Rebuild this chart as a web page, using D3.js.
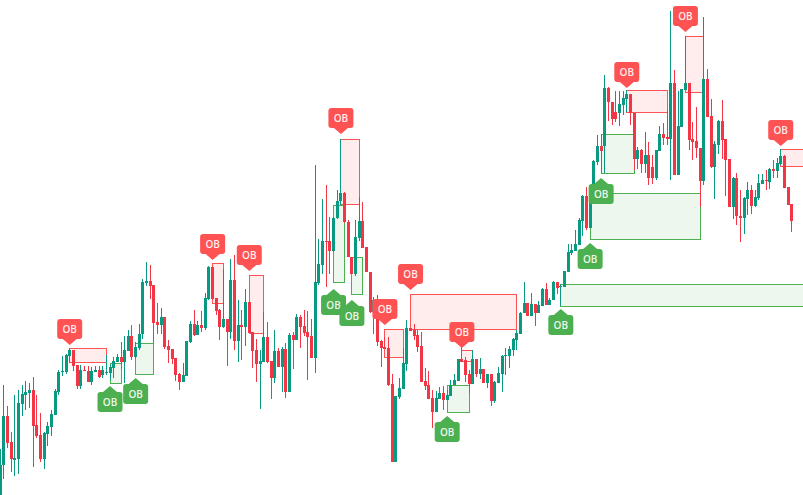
<!DOCTYPE html>
<html><head><meta charset="utf-8">
<script src="https://cdn.jsdelivr.net/npm/d3@7"></script>
<style>html,body{margin:0;padding:0;background:#fff;overflow:hidden}svg{display:block}</style>
</head><body><svg id="c"></svg>
<script>
const firstBar = -1;
const highs = [551,615,594,568,605,610,615,619,617,623,605,587,568,578,590,611,630,644,646,652,650,635,635,634,634,633,634,634,634,645,635,643,646,658,664,670,675,658,676,721,738,735,715,697,692,683,660,651,642,627,637,659,679,690,679,689,707,734,733,702,691,731,681,741,745,700,690,711,698,668,661,650,688,678,639,670,652,653,657,667,668,686,685,690,689,681,835,761,801,815,783,783,810,861,808,780,743,780,803,798,753,728,703,705,660,663,663,626,604,622,652,680,672,676,670,668,632,629,610,609,613,614,610,620,626,641,653,643,630,650,641,642,631,626,626,619,633,645,652,654,662,670,688,718,697,707,696,699,712,717,702,719,718,716,729,756,756,770,782,805,813,808,840,865,866,925,913,898,909,909,909,910,906,887,853,851,868,858,845,850,874,877,890,989,930,909,911,964,917,878,893,852,983,931,901,859,880,900,861,841,823,827,810,803,818,815,810,826,826,830,832,840,842,851,845,813,796];
const opens = [505,535,584,558,540,541,596,605,607,610,575,565,541,566,573,585,608,628,628,644,650,635,614,630,629,618,628,630,625,627,627,632,638,643,638,649,664,643,652,666,717,719,715,678,675,683,654,651,642,626,618,624,658,676,665,675,672,701,733,702,690,673,681,668,720,659,675,673,698,668,650,636,638,663,639,622,649,633,651,608,665,660,683,674,668,664,642,717,735,759,759,749,782,799,807,778,743,726,762,779,753,728,688,700,659,653,652,616,538,603,611,636,672,670,665,654,619,615,602,588,601,607,600,604,615,619,641,640,626,616,641,626,631,617,626,599,617,626,644,644,650,660,666,687,697,684,696,687,694,711,695,700,718,713,713,728,747,749,755,779,804,772,803,838,854,854,912,898,888,887,895,901,906,887,841,850,836,845,833,822,849,866,863,861,917,825,873,910,917,861,859,852,819,921,884,833,855,879,861,841,793,822,784,782,801,810,794,802,816,820,818,831,829,836,844,813,796];
const closes = [535,584,557,541,542,597,606,608,610,574,564,541,567,574,586,609,628,629,645,650,634,614,630,629,618,629,630,623,630,628,633,639,643,638,650,664,643,653,666,718,719,714,677,675,683,653,650,641,625,618,625,659,676,665,675,672,702,733,701,689,673,681,668,720,659,675,673,698,667,649,636,639,663,638,622,649,633,651,608,665,660,683,673,667,663,642,718,736,759,758,749,782,799,807,778,743,726,763,779,752,728,688,700,658,652,651,615,538,604,612,637,672,669,664,653,618,614,601,588,602,607,600,605,615,620,641,638,625,616,641,626,631,617,626,599,618,627,644,645,651,661,667,687,697,684,696,687,695,711,695,700,718,712,714,729,748,750,756,780,804,772,807,839,854,849,912,898,881,881,896,902,906,887,841,850,836,845,822,822,850,866,862,861,917,825,874,911,917,860,858,852,819,921,883,833,856,879,860,840,793,822,784,782,802,810,794,803,817,820,819,831,829,837,844,812,795,779];
const lows = [505,521,552,528,524,526,584,590,592,533,562,538,531,554,564,585,605,624,626,637,629,611,611,629,618,615,628,622,622,625,620,622,638,631,617,649,640,641,650,661,714,701,657,666,666,651,637,636,619,610,618,624,657,664,665,668,670,700,701,685,660,672,634,661,650,638,640,654,667,632,618,591,638,637,601,617,633,608,602,608,631,660,652,664,620,642,627,715,726,713,726,748,781,795,777,743,726,724,759,752,728,687,666,654,633,651,614,538,538,601,611,629,669,660,648,618,610,601,572,588,601,590,600,604,615,619,638,618,607,616,623,621,617,612,594,597,617,608,625,632,644,650,666,687,684,684,674,687,694,695,695,700,706,694,713,728,745,749,755,764,770,772,800,835,827,827,879,875,878,874,885,888,875,830,831,827,827,815,816,820,849,855,855,820,825,825,873,910,850,840,842,793,815,883,832,801,846,841,804,793,781,775,758,766,785,786,793,800,816,810,811,822,822,835,812,795,768];

const bearZoneStart = [18,57,67,92,104,111,125,170,186,212];
const bearZoneEnd   = [28,60,71,97,109,140,128,181,191,225];
const bearZoneTop   = [652,737,725,861,671,706,650,910,964,851];
const bearZoneBot   = [638,697,667,796,643,671,639,888,908,834];
const bullZoneStart = [29,36,90,95,121,152,160,163];
const bullZoneEnd   = [32,41,93,98,127,225,190,172];
const bullZoneTop   = [637,657,795,743,615,716,807,866];
const bullZoneBot   = [617,626,718,706,588,694,761,827];

const bearLabelBar = [18,57,67,92,104,111,125,170,186,212];
const bearLabelPrice = [655,740,729,866,675,710,652,912,968,854];
const bullLabelBar = [29,36,90,95,121,152,160,163];
const bullLabelPrice = [614,622,711,700,584,691,757,822];
const labelText = "OB";

const W = 803, H = 495;
const upColor = "#089981", downColor = "#F23645";
const bearLine = "#FF5252", bullLine = "#4CAF50";

const svg = d3.select("#c").attr("width", W).attr("height", H).attr("viewBox", `0 0 ${W} ${H}`);
const x = d3.scaleLinear().domain([0, 215]).range([3.72, 791.72]);
const y = d3.scaleLinear().domain([505, 1000]).range([H, 0]);
const px = i => Math.floor(x(i));

const candles = highs.map((h, i) => ({bar: i + firstBar, o: opens[i], h, l: lows[i], c: closes[i]}));
const bearZones = bearZoneStart.map((s, i) => ({s, e: bearZoneEnd[i], t: bearZoneTop[i], b: bearZoneBot[i]}));
const bullZones = bullZoneStart.map((s, i) => ({s, e: bullZoneEnd[i], t: bullZoneTop[i], b: bullZoneBot[i]}));

function zones(data, stroke) {
  svg.append("g").attr("shape-rendering", "crispEdges").selectAll("rect").data(data).join("rect")
    .attr("x", d => px(d.s) + .5).attr("y", d => Math.round(y(d.t)) + .5)
    .attr("width", d => px(d.e) - px(d.s)).attr("height", d => Math.round(y(d.b)) - Math.round(y(d.t)))
    .attr("fill", stroke).attr("fill-opacity", .1).attr("stroke", stroke).attr("stroke-width", 1);
}
zones(bullZones, bullLine);
zones(bearZones, bearLine);

const cg = svg.append("g").attr("shape-rendering", "crispEdges");
const col = d => d.c >= d.o ? upColor : downColor;
cg.selectAll(".w").data(candles).join("rect").attr("class", "w")
  .attr("x", d => px(d.bar)).attr("width", 1)
  .attr("y", d => y(d.h)).attr("height", d => y(d.l) - y(d.h)).attr("fill", col);
cg.selectAll(".b").data(candles).join("rect").attr("class", "b")
  .attr("x", d => px(d.bar) - 1).attr("width", 3)
  .attr("y", d => y(Math.max(d.o, d.c))).attr("height", d => Math.max(1, Math.abs(y(d.o) - y(d.c)))).attr("fill", col);

function labelPath(dir) {
  const hw = 12.5, r = 3, near = 6, far = 26, base = 7;
  const n = dir * near, f = dir * far, sy = dir;
  const p = d3.path();
  p.moveTo(0, 0);
  p.lineTo(base, n);
  p.lineTo(hw - r, n);
  p.quadraticCurveTo(hw, n, hw, n + sy * r);
  p.lineTo(hw, f - sy * r);
  p.quadraticCurveTo(hw, f, hw - r, f);
  p.lineTo(-hw + r, f);
  p.quadraticCurveTo(-hw, f, -hw, f - sy * r);
  p.lineTo(-hw, n + sy * r);
  p.quadraticCurveTo(-hw, n, -hw + r, n);
  p.lineTo(-base, n);
  p.closePath();
  return p.toString();
}
function labels(bars, prices, dir, fill) {
  const g = svg.append("g").selectAll("g").data(bars.map((b, i) => ({b, p: prices[i]}))).join("g")
    .attr("transform", d => `translate(${x(d.b)},${y(d.p)})`);
  g.append("path").attr("d", labelPath(dir)).attr("fill", fill);
  g.append("text").text(labelText).attr("text-anchor", "middle")
    .attr("y", dir * 16 + 3.5).attr("fill", "#fff").attr("fill-opacity", .92)
    .attr("font-family", "'Open Sans',sans-serif").attr("font-size", 10).attr("font-weight", 600);
}
labels(bearLabelBar, bearLabelPrice, -1, bearLine);
labels(bullLabelBar, bullLabelPrice, 1, bullLine);
</script></body></html>
